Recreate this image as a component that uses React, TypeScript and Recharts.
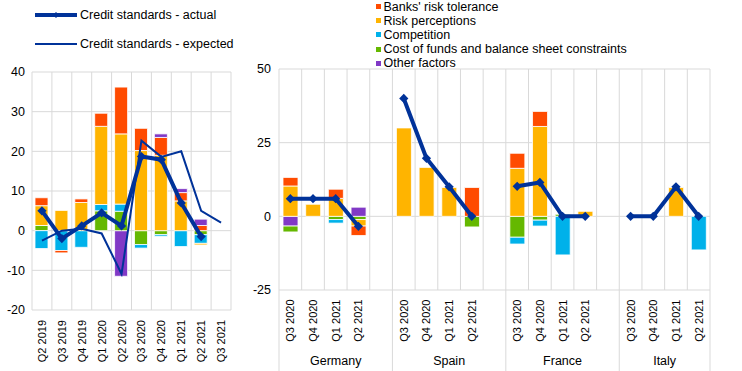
import { ComposedChart, Bar, Line, XAxis, YAxis, CartesianGrid } from "recharts";

const FONT = '"Liberation Sans", Arial, sans-serif';
const GRID = "#d9d9d9";
const NAVY = "#003299";
const C_TOL = "#ff4b00";
const C_PER = "#ffb400";
const C_COMP = "#00b1ea";
const C_COST = "#65b800";
const C_OTHER = "#8139c6";

// euro area panel (net percentages)
const eaQuarters = ["Q2 2019", "Q3 2019", "Q4 2019", "Q1 2020", "Q2 2020", "Q3 2020", "Q4 2020", "Q1 2021", "Q2 2021", "Q3 2021"];
const eaRiskTolerance = [2.0, -0.6, 0.9, 3.3, 11.8, 5.6, 4.5, 2.1, 1.3, 0];
const eaRiskPerceptions = [5.0, 5.1, 7.1, 19.7, 17.7, 20.2, 19.0, 7.5, -0.4, 0];
const eaCompetition = [-4.5, -5.0, -4.2, 1.6, 1.8, -0.9, -0.4, -4.0, -2.2, 0];
const eaCostOfFunds = [1.3, 0, 0, 5.0, 4.9, -3.5, -1.0, 0, -1.0, 0];
const eaOther = [0, 0, 0, 0, -11.5, 0, 0.9, 1.0, 1.6, 0];
const eaActual = [5.0, -2.0, 1.2, 4.5, 1.2, 18.7, 17.9, 7.0, -1.5, null];
const eaExpected = [-2.5, 0, 0.5, -0.7, -10.9, 22.7, 18.6, 20.0, 5.0, 2.0];
const eaTicks = [-20, -10, 0, 10, 20, 30, 40];

// country panel: Germany, Spain, France, Italy x 4 quarters
const countries = ["Germany", "Spain", "France", "Italy"];
const ctyQuarters = ["Q3 2020", "Q4 2020", "Q1 2021", "Q2 2021"];
const ctyRiskTolerance = [2.9, 0, 3.1, -3.2, 0, 0, 0, 9.8, 5.1, 5.1, 0, 0, 0, 0, 0, 0];
const ctyRiskPerceptions = [10.3, 4.1, 6.1, -2.2, 30.0, 16.6, 9.8, 0, 16.3, 30.5, 0, 1.7, 0, 0, 9.8, 0];
const ctyCompetition = [0, 0, -1.2, 0, 0, 0, 0, 0, -2.3, -2.0, -13.1, 0, 0, 0, 0, -11.4];
const ctyCostOfFunds = [-2.0, 0, -1.1, -1.1, 0, 0, 0, -3.6, -7.1, -1.3, 0.7, 0, 0, 0, 0, 0];
const ctyOther = [-3.3, 0, 0, 3.1, 0, 0, 0, 0, 0, 0, 0, 0, 0, 0, 0, 0];
const ctyActual = [6.0, 6.0, 6.0, -3.4, 40.0, 19.7, 10.0, 0, 10.2, 11.5, 0, 0, 0, 0, 10.0, 0];
const ctyTicks = [-25, 0, 25, 50];

const eaData = eaQuarters.map((q, i) => ({
  q,
  otherNeg: Math.min(eaOther[i], 0),
  cost: eaCostOfFunds[i],
  comp: eaCompetition[i],
  per: eaRiskPerceptions[i],
  tol: eaRiskTolerance[i],
  otherPos: Math.max(eaOther[i], 0),
  actual: eaActual[i],
  expected: eaExpected[i],
}));

type Row = {
  key: string;
  label: string;
  country: string;
  first: boolean;
  lastAll: boolean;
  slots: number;
  [k: string]: any;
};

const ctyData: Row[] = [];
countries.forEach((c, ci) => {
  const isLast = ci === countries.length - 1;
  ctyQuarters.forEach((q, qi) => {
    const i = ci * 4 + qi;
    ctyData.push({
      key: c + " " + q,
      label: q,
      country: c,
      first: qi === 0,
      lastAll: isLast && qi === 3,
      slots: isLast ? 4 : 5,
      otherNeg: Math.min(ctyOther[i], 0),
      cost: ctyCostOfFunds[i],
      comp: ctyCompetition[i],
      per: ctyRiskPerceptions[i],
      tol: ctyRiskTolerance[i],
      otherPos: Math.max(ctyOther[i], 0),
      actual: ctyActual[i],
    });
  });
  if (!isLast) {
    ctyData.push({ key: "gap " + c, label: "", country: c, first: false, lastAll: false, slots: 0, actual: null });
  }
});

// geometry
const L_W = 240;
const L_LEFT = 32;
const L_PLOT_W = 199;
const R_OFFSET = 250;
const R_W = 492;
const R_LEFT = 29;
const R_PLOT_W = 431;
const R_BOTTOM = 290;
const R_SLOT = R_PLOT_W / ctyData.length;

const eaGrid = eaQuarters.map((_, i) => L_LEFT + (i * L_PLOT_W) / eaQuarters.length).concat(L_LEFT + L_PLOT_W);
const ctyGrid = ctyData.map((_, i) => R_LEFT + i * R_SLOT).concat(R_LEFT + R_PLOT_W);

const Diamond = (props: any) => {
  const { cx, cy, value } = props;
  if (value == null || cx == null || cy == null) return <g />;
  const s = 4.6;
  return <path d={`M${cx},${cy - s}L${cx + s},${cy}L${cx},${cy + s}L${cx - s},${cy}Z`} fill={NAVY} />;
};

function EaTick({ x, y, payload }: any) {
  const ty = y + 10;
  return (
    <text x={x} y={ty} transform={`rotate(-90 ${x} ${ty})`} textAnchor="end" dominantBaseline="central" fontSize={11} fill="#000" fontFamily={FONT}>
      {payload.value}
    </text>
  );
}

function CtyTick({ x, y, payload }: any) {
  const row = ctyData.find((r) => r.key === payload.value);
  if (!row) return <g />;
  const ty = y + 9.5;
  return (
    <g>
      {row.label && (
        <text x={x} y={ty} transform={`rotate(-90 ${x} ${ty})`} textAnchor="end" dominantBaseline="central" fontSize={11} fill="#000" fontFamily={FONT}>
          {row.label}
        </text>
      )}
      {row.first && (
        <>
          <line x1={x - R_SLOT / 2} x2={x - R_SLOT / 2} y1={R_BOTTOM} y2={371} stroke={GRID} />
          <text x={x - R_SLOT / 2 + (row.slots * R_SLOT) / 2} y={365} textAnchor="middle" fontSize={12.5} fill="#000" fontFamily={FONT}>
            {row.country}
          </text>
        </>
      )}
      {row.lastAll && <line x1={x + R_SLOT / 2} x2={x + R_SLOT / 2} y1={R_BOTTOM} y2={371} stroke={GRID} />}
    </g>
  );
}

const tickStyle = { fill: "#000", fontSize: 12.5, fontFamily: FONT };

function bars(size: number, yAxisId?: string) {
  const common = { stackId: "s", isAnimationActive: false, barSize: size, stroke: "#fff", strokeWidth: 0.8, yAxisId } as any;
  return [
    <Bar key="otherNeg" dataKey="otherNeg" fill={C_OTHER} {...common} />,
    <Bar key="cost" dataKey="cost" fill={C_COST} {...common} />,
    <Bar key="comp" dataKey="comp" fill={C_COMP} {...common} />,
    <Bar key="per" dataKey="per" fill={C_PER} {...common} />,
    <Bar key="tol" dataKey="tol" fill={C_TOL} {...common} />,
    <Bar key="otherPos" dataKey="otherPos" fill={C_OTHER} {...common} />,
  ];
}

const legendItems = [
  { name: "Banks' risk tolerance", color: C_TOL },
  { name: "Risk perceptions", color: C_PER },
  { name: "Competition", color: C_COMP },
  { name: "Cost of funds and balance sheet constraints", color: C_COST },
  { name: "Other factors", color: C_OTHER },
];

export default function App() {
  return (
    <div style={{ position: "absolute", left: 0, top: 0, width: 742, height: 371, background: "#fff", fontFamily: FONT, overflow: "hidden" }}>
      <div style={{ position: "absolute", left: 0, top: 0 }}>
        <ComposedChart width={L_W} height={371} data={eaData} stackOffset="sign" margin={{ top: 72, right: 9, bottom: 0, left: 0 }}>
          <CartesianGrid stroke={GRID} verticalPoints={eaGrid} />
          <XAxis dataKey="q" interval={0} height={61} tick={<EaTick />} tickLine={false} axisLine={false} tickSize={0} tickMargin={0} />
          <YAxis width={32} domain={[-20, 40]} ticks={eaTicks} tick={tickStyle} tickLine={false} axisLine={false} tickSize={0} tickMargin={7} />
          {bars(13)}
          <Line dataKey="expected" stroke={NAVY} strokeWidth={2} dot={false} isAnimationActive={false} type="linear" />
          <Line dataKey="actual" stroke={NAVY} strokeWidth={4} dot={<Diamond />} activeDot={false} isAnimationActive={false} type="linear" />
        </ComposedChart>
      </div>
      <div style={{ position: "absolute", left: R_OFFSET, top: 0 }}>
        <ComposedChart width={R_W} height={371} data={ctyData} stackOffset="sign" margin={{ top: 69, right: 0, bottom: 0, left: 0 }}>
          <CartesianGrid stroke={GRID} verticalPoints={ctyGrid} yAxisId="l" />
          <XAxis dataKey="key" interval={0} height={81} tick={<CtyTick />} tickLine={false} axisLine={false} tickSize={0} tickMargin={0} />
          <YAxis yAxisId="l" width={29} domain={[-25, 50]} ticks={ctyTicks} tick={tickStyle} tickLine={false} axisLine={false} tickSize={0} tickMargin={8} />
          <YAxis yAxisId="r" orientation="right" width={32} domain={[-25, 50]} ticks={ctyTicks} tick={{ ...tickStyle, textAnchor: "start" }} tickLine={false} axisLine={false} tickSize={0} tickMargin={9} />
          {bars(15, "l")}
          <Line yAxisId="l" dataKey="actual" stroke={NAVY} strokeWidth={4} dot={<Diamond />} activeDot={false} isAnimationActive={false} type="linear" />
        </ComposedChart>
      </div>

      {/* left legend */}
      {[
        { name: "Credit standards - actual", w: 4, y: 15, marker: true },
        { name: "Credit standards - expected", w: 2, y: 44, marker: false },
      ].map((it) => (
        <div key={it.name} style={{ position: "absolute", left: 35, top: it.y - 8, height: 16, display: "flex", alignItems: "center" }}>
          <svg width={43} height={16}>
            <line x1={0} x2={42} y1={8} y2={8} stroke={NAVY} strokeWidth={it.w} />
            {it.marker && <path d="M21,5L24,8L21,11L18,8Z" fill={NAVY} />}
          </svg>
          <span style={{ fontSize: 12.5, color: "#000", marginLeft: 2, whiteSpace: "nowrap" }}>{it.name}</span>
        </div>
      ))}

      {/* right legend */}
      {legendItems.map((it, i) => (
        <div key={it.name} style={{ position: "absolute", left: 376, top: 6.5 + i * 14.2 - 7, height: 14, display: "flex", alignItems: "center" }}>
          <span style={{ width: 5, height: 5, background: it.color, display: "inline-block" }} />
          <span style={{ fontSize: 12.5, lineHeight: "14px", color: "#000", marginLeft: 2.5, whiteSpace: "nowrap" }}>{it.name}</span>
        </div>
      ))}
    </div>
  );
}
